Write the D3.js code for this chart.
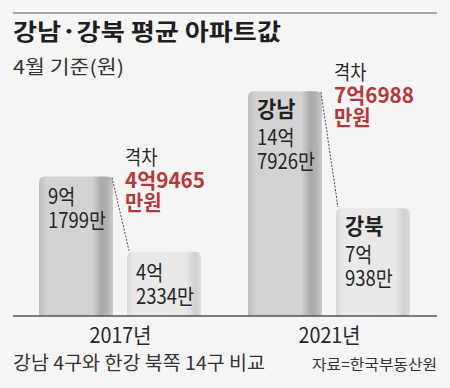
<!DOCTYPE html>
<html>
<head>
<meta charset="utf-8">
<script src="https://cdn.jsdelivr.net/npm/d3@7"></script>
<style>
  body { margin: 0; background: #f5f5f5; }
  svg { display: block; }
  text { font-family: "Noto Sans CJK KR", "Noto Sans", sans-serif; fill: #2b2b2b; }
</style>
</head>
<body>
<svg></svg>
<script>
let svgWidth = 450
let svgHeight = 388

// values in 만원
let years = ['2017년', '2021년']
let regions = ['강남', '강북']
let gangnam = [91799, 147926]
let gangbuk = [42334, 70938]
let gangnamText = [['9억', '1799만'], ['14억', '7926만']]
let gangbukText = [['4억', '2334만'], ['7억', '938만']]
let showName = [false, true]
let gapText = [['4억9465', '만원'], ['7억6988', '만원']]

let baseY = 316
let condense = 0.88

let svg = d3.select('svg').attr('width', svgWidth).attr('height', svgHeight)

let x0 = d3.scalePoint().domain(years).range([120, 329])
let x1 = d3.scaleBand().domain(regions).range([-81, 81]).paddingInner(0.159)
let y = d3.scaleLinear().domain([0, 150000]).range([baseY, 88])

function gradient(id, stops) {
  let g = defs.append('linearGradient').attr('id', id)
    .attr('x1', '0').attr('x2', '1').attr('y1', '0').attr('y2', '0')
  stops.forEach(function(s) {
    g.append('stop').attr('offset', s[0]).attr('stop-color', s[1])
  })
}

let defs = svg.append('defs')
gradient('grad-gn', [[0, '#bdbdbd'], [0.1, '#d2d2d2'], [0.72, '#d3d3d3'], [0.84, '#a9a9a9'], [0.93, '#b3b3b3'], [1, '#cbcbcb']])
gradient('grad-gb', [[0, '#d6d6d6'], [0.08, '#e9e9e9'], [0.8, '#e8e8e8'], [0.92, '#cfcfcf'], [1, '#dcdcdc']])

function topRounded(x, top, w, bottom, r) {
  return 'M' + x + ',' + bottom +
    'V' + (top + r) + 'Q' + x + ',' + top + ' ' + (x + r) + ',' + top +
    'H' + (x + w - r) + 'Q' + (x + w) + ',' + top + ' ' + (x + w) + ',' + (top + r) +
    'V' + bottom + 'Z'
}

// sx < 5 is a horizontal squeeze, bigger numbers are a target width
function label(parent, x, yy, str, size, weight, color, sx) {
  let t = parent.append('text')
    .style('font-size', size + 'px')
    .style('font-weight', weight || 400)
    .style('fill', color || '#2b2b2b')
    .text(str)
  if (sx > 5) {
    t.attr('transform', 'translate(' + x + ',' + yy + ')')
      .attr('textLength', sx).attr('lengthAdjust', 'spacingAndGlyphs')
  } else {
    t.attr('transform', 'translate(' + x + ',' + yy + ') scale(' + (sx || condense) + ',1)')
  }
  return t
}

// header
svg.append('line').attr('x1', 13).attr('x2', 437).attr('y1', 13).attr('y2', 13)
  .attr('stroke', '#8a8a8a').attr('stroke-width', 1.5)
label(svg, 13, 40, '강남·강북 평균 아파트값', 23, 700, '#1e1e1e', 268)
label(svg, 13, 74, '4월 기준(원)', 19, 400, '#333', 111)

let rows = years.map(function(yr, i) {
  return { year: yr, i: i, vals: [gangnam[i], gangbuk[i]] }
})

let groups = svg.selectAll('g.year')
  .data(rows)
  .enter()
  .append('g')
  .attr('class', 'year')
  .attr('transform', function(d) { return 'translate(' + x0(d.year) + ',0)' })

groups.selectAll('path.bar')
  .data(function(d) { return d.vals.map(function(v, j) { return { region: regions[j], value: v, i: d.i } }) })
  .enter()
  .append('path')
  .attr('class', 'bar')
  .attr('d', function(d) { return topRounded(x1(d.region), y(d.value), x1.bandwidth(), baseY, 6) })
  .attr('fill', function(d) { return d.region === '강남' ? 'url(#grad-gn)' : 'url(#grad-gb)' })

groups.each(function(d) {
  let g = d3.select(this)
  let i = d.i
  let texts = [gangnamText[i], gangbukText[i]]
  regions.forEach(function(r, j) {
    let bx = x1(r) + 9
    let top = y(d.vals[j])
    let yy = top + 28
    if (showName[i]) {
      label(g, bx, top + 26, r, 22, 700, '#222', 0.95)
      yy = top + 54
    }
    label(g, bx, yy, texts[j][0], 21, 400, '#262626')
    label(g, bx, yy + 24, texts[j][1], 21, 400, '#262626')
  })

  // dashed connector
  g.append('line')
    .attr('x1', x1('강남') + x1.bandwidth() - 1).attr('y1', y(d.vals[0]) + 1)
    .attr('x2', x1('강북') + 2).attr('y2', y(d.vals[1]) - 1)
    .attr('stroke', '#333').attr('stroke-width', 0.9).attr('stroke-dasharray', '2,1.5')

  // gap annotation
  let ax = x1('강북') - 2
  let ay = y(d.vals[0]) - 11
  label(g, ax, ay, '격차', 20, 400, '#262626')
  label(g, ax, ay + 23, gapText[i][0], 21, 700, '#b5383b', 80)
  label(g, ax, ay + 45, gapText[i][1], 21, 700, '#b5383b', 0.95)
})

// baseline
svg.append('line').attr('x1', 13).attr('x2', 437).attr('y1', baseY).attr('y2', baseY)
  .attr('stroke', '#555').attr('stroke-width', 1.5)

// year axis
let xAxis = d3.axisBottom(x0).tickSize(0).tickPadding(0)
let ax = svg.append('g').attr('transform', 'translate(0,' + baseY + ')').call(xAxis)
ax.select('.domain').remove()
ax.selectAll('text')
  .attr('y', 27).attr('dy', 0)
  .attr('transform', null)
  .style('font-size', '21px')
  .style('font-family', '"Noto Sans CJK KR", sans-serif')
  .style('fill', '#262626')
  .attr('textLength', 62).attr('lengthAdjust', 'spacingAndGlyphs')

// footer
label(svg, 13, 370, '강남 4구와 한강 북쪽 14구 비교', 19, 400, '#333', 252)
label(svg, 312, 370, '자료=한국부동산원', 15, 400, '#333', 125)
</script>
</body>
</html>
